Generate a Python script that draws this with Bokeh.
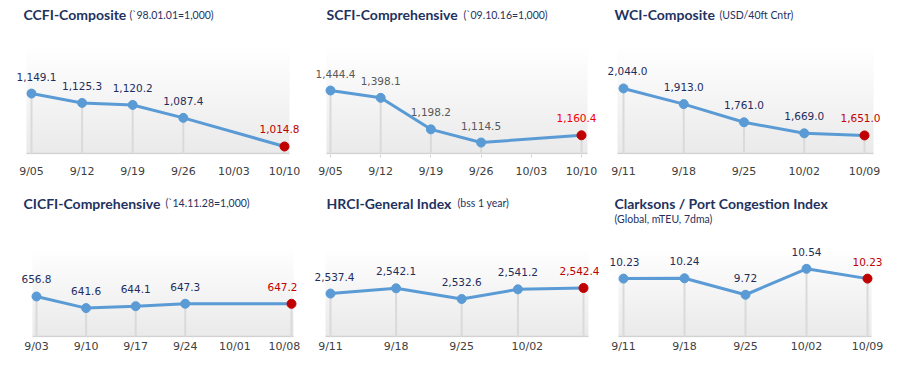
import datetime as dt
import numpy as np
from bokeh.plotting import figure
from bokeh.models import ColumnDataSource, FixedTicker, Label, Range1d
from bokeh.layouts import column, row
from bokeh.embed import file_html
from bokeh.resources import INLINE
from bokeh.core.properties import value

YEAR = 2025

# ---------------- data ----------------
ccfi_title = "CCFI-Composite"
ccfi_note = "(`98.01.01=1,000)"
ccfi_dates = ["2025-09-05", "2025-09-12", "2025-09-19", "2025-09-26", "2025-10-10"]
ccfi_values = [1149.1, 1125.3, 1120.2, 1087.4, 1014.8]
ccfi_ticks = ["9/05", "9/12", "9/19", "9/26", "10/03", "10/10"]

scfi_title = "SCFI-Comprehensive"
scfi_note = "(`09.10.16=1,000)"
scfi_dates = ["2025-09-05", "2025-09-12", "2025-09-19", "2025-09-26", "2025-10-10"]
scfi_values = [1444.4, 1398.1, 1198.2, 1114.5, 1160.4]
scfi_ticks = ["9/05", "9/12", "9/19", "9/26", "10/03", "10/10"]

wci_title = "WCI-Composite"
wci_note = "(USD/40ft Cntr)"
wci_dates = ["2025-09-11", "2025-09-18", "2025-09-25", "2025-10-02", "2025-10-09"]
wci_values = [2044.0, 1913.0, 1761.0, 1669.0, 1651.0]
wci_ticks = ["9/11", "9/18", "9/25", "10/02", "10/09"]

cicfi_title = "CICFI-Comprehensive"
cicfi_note = "(`14.11.28=1,000)"
cicfi_dates = ["2025-09-03", "2025-09-10", "2025-09-17", "2025-09-24", "2025-10-09"]
cicfi_values = [656.8, 641.6, 644.1, 647.3, 647.2]
cicfi_ticks = ["9/03", "9/10", "9/17", "9/24", "10/01", "10/08"]

hrci_title = "HRCI-General Index"
hrci_note = "(bss 1 year)"
hrci_dates = ["2025-09-11", "2025-09-18", "2025-09-25", "2025-10-01", "2025-10-08"]
hrci_values = [2537.4, 2542.1, 2532.6, 2541.2, 2542.4]
hrci_ticks = ["9/11", "9/18", "9/25", "10/02"]

pci_title = "Clarksons / Port Congestion Index"
pci_note = "(Global, mTEU, 7dma)"
pci_dates = ["2025-09-11", "2025-09-18", "2025-09-25", "2025-10-02", "2025-10-09"]
pci_values = [10.23, 10.24, 9.72, 10.54, 10.23]
pci_ticks = ["9/11", "9/18", "9/25", "10/02", "10/09"]

# ---------------- styles / layout ----------------
BLUE = "#5B9BD5"
DARKRED = "#C00000"
NAVY = "#1F2D5C"
TITLE_C = "#1F3260"
GRID_C = "#DADADA"
BASE_C = "#D2D2D2"
TICK_C = "#404040"
VAL_SIZE = "10.5px"
TICK_SIZE = "11px"
TITLE_SIZE = "14px"
NOTE_SIZE = "10.5px"

# picture coordinates (px): fig=(left, top, width, height, frame_bottom)
LAYOUT = [
    dict(fig=(0, 0, 300, 185, 154), box=(26, 289, 45, 153), xpx=(31, 284), yr=(997, 1271),
         title_at=(23, 14), note_at=(129, 14), nudge=(5, -5), ticks=False,
         lab_c=NAVY, last_c=DARKRED, fmt="{:,.1f}", standoff=10),
    dict(fig=(300, 0, 300, 185, 154), box=(326, 587, 45, 153), xpx=(330, 581), yr=(1045, 1730),
         title_at=(326, 14), note_at=(463, 14), nudge=(5, -5), ticks=True,
         lab_c="#595959", last_c="#F00000", fmt="{:,.1f}", standoff=7),
    dict(fig=(600, 0, 284, 185, 154), box=(617, 873, 45, 153), xpx=(623, 864), yr=(1500, 2403),
         title_at=(614, 14), note_at=(719, 14), nudge=(4, -4), ticks=False,
         lab_c=NAVY, last_c=DARKRED, fmt="{:,.1f}", standoff=10),
    dict(fig=(0, 185, 300, 170, 340), box=(32, 293, 248, 339), xpx=(36, 291), yr=(604.5, 721),
         title_at=(23, 205.5), note_at=(165, 205.5), nudge=(0, -9), ticks=False,
         lab_c=NAVY, last_c=DARKRED, fmt="{:,.1f}", standoff=2),
    dict(fig=(300, 185, 300, 170, 340), box=(325, 588, 248, 339), xpx=(330, 583), yr=(2499.2, 2578.6),
         title_at=(326, 205.5), note_at=(457, 205.5), nudge=(4, -4), ticks=False,
         lab_c=NAVY, last_c=DARKRED, fmt="{:,.1f}", standoff=2),
    dict(fig=(600, 185, 284, 170, 340), box=(618, 871, 248, 339), xpx=(623, 867), yr=(8.40, 11.22),
         title_at=(614, 205.5), note_at=(614, 221), nudge=(1, 0), ticks=False,
         lab_c=NAVY, last_c=DARKRED, fmt="{:.2f}", standoff=2),
]


def to_date(s):
    return dt.date.fromisoformat(s)


def tick_to_date(lbl):
    m, d = lbl.split("/")
    return dt.date(YEAR, int(m), int(d))


def gradient_image(n=64, bottom=(234, 234, 234), top=(255, 255, 255)):
    img = np.empty((n, 1), dtype=np.uint32)
    view = img.view(dtype=np.uint8).reshape((n, 1, 4))
    t = np.linspace(0.0, 1.0, n)
    for k in range(3):
        view[:, 0, k] = np.round(bottom[k] + (top[k] - bottom[k]) * t).astype(np.uint8)
    view[:, 0, 3] = 255
    return img


def make_panel(title, note, dates, values, ticks, lay):
    fx, fy, W, H, fb = lay["fig"]
    B = fy + H - fb
    Hf = H - B
    d0 = to_date(dates[0])
    xs = [float((to_date(d) - d0).days) for d in dates]
    tx = [float((tick_to_date(t) - d0).days) for t in ticks]
    px0, px1 = lay["xpx"]
    sx = (px1 - px0) / (xs[-1] - xs[0])
    x_start = xs[0] - (px0 - fx) / sx
    x_end = x_start + W / sx
    bl, br, bt, bb = lay["box"]
    ylo, yhi = lay["yr"]
    sy = (bb - bt) / (yhi - ylo)
    y_end = yhi + (bt - fy) / sy
    y_start = y_end - Hf / sy

    p = figure(width=W, height=H, x_range=Range1d(x_start, x_end), y_range=Range1d(y_start, y_end),
               tools="", toolbar_location=None, output_backend="svg", y_axis_location=None,
               title=None, min_border_left=0, min_border_right=0, min_border_top=0,
               min_border_bottom=B)
    p.outline_line_color = None
    p.background_fill_color = "white"
    p.border_fill_color = "white"
    p.xgrid.visible = False
    p.ygrid.visible = False

    # gradient plot area
    gx0 = x_start + (bl - fx) / sx
    gx1 = x_start + (br - fx) / sx
    p.image_rgba(image=[gradient_image()], x=gx0, y=ylo, dw=gx1 - gx0, dh=yhi - ylo)
    # baseline
    p.segment(x0=[gx0], y0=[ylo], x1=[gx1], y1=[ylo], line_color=BASE_C, line_width=1.5)

    n = len(values)
    colors = [BLUE] * (n - 1) + [DARKRED]
    lab_colors = [lay["lab_c"]] * (n - 1) + [lay["last_c"]]
    xo = [0] * n
    xo[0] = lay["nudge"][0]
    xo[-1] = lay["nudge"][1]
    src = ColumnDataSource(dict(x=xs, y=values, y0=[ylo] * n, c=colors,
                                lab=[lay["fmt"].format(v) for v in values],
                                lc=lab_colors, xo=xo))
    p.segment(x0="x", y0="y0", x1="x", y1="y", source=src, line_color=GRID_C, line_width=2)
    p.line("x", "y", source=src, line_color=BLUE, line_width=3)
    p.scatter("x", "y", source=src, size=9, fill_color="c", line_color="c")
    p.text("x", "y", text="lab", source=src, text_color="lc", x_offset="xo", y_offset=-17,
           text_align="center", text_baseline="middle",
           text_font=value("DejaVu Sans"), text_font_size=VAL_SIZE)

    ax = p.xaxis[0]
    ax.ticker = FixedTicker(ticks=tx)
    ax.major_label_overrides = {t: s for t, s in zip(tx, ticks)}
    ax.axis_line_color = None
    ax.minor_tick_line_color = None
    ax.major_tick_in = 0
    if lay["ticks"]:
        ax.major_tick_out = 3
        ax.major_tick_line_color = BASE_C
    else:
        ax.major_tick_out = 0
        ax.major_tick_line_color = None
    ax.major_label_standoff = lay["standoff"]
    ax.major_label_text_font = "DejaVu Sans"
    ax.major_label_text_font_size = TICK_SIZE
    ax.major_label_text_color = TICK_C

    tx_, ty_ = lay["title_at"]
    p.add_layout(Label(x=tx_ - fx, y=Hf - (ty_ - fy), x_units="screen", y_units="screen",
                       text=title, text_font="Lato", text_font_style="bold",
                       text_font_size=TITLE_SIZE, text_color=TITLE_C,
                       text_align="left", text_baseline="alphabetic"))
    nx_, ny_ = lay["note_at"]
    p.add_layout(Label(x=nx_ - fx, y=Hf - (ny_ - fy), x_units="screen", y_units="screen",
                       text=note, text_font="Lato", text_font_size=NOTE_SIZE, text_color=TITLE_C,
                       text_align="left", text_baseline="alphabetic"))
    return p


panels = [
    (ccfi_title, ccfi_note, ccfi_dates, ccfi_values, ccfi_ticks),
    (scfi_title, scfi_note, scfi_dates, scfi_values, scfi_ticks),
    (wci_title, wci_note, wci_dates, wci_values, wci_ticks),
    (cicfi_title, cicfi_note, cicfi_dates, cicfi_values, cicfi_ticks),
    (hrci_title, hrci_note, hrci_dates, hrci_values, hrci_ticks),
    (pci_title, pci_note, pci_dates, pci_values, pci_ticks),
]

figs = [make_panel(*spec, lay) for spec, lay in zip(panels, LAYOUT)]
layout = column(row(*figs[:3], spacing=0), row(*figs[3:], spacing=0), spacing=0)

open("out.html", "w").write(file_html(layout, INLINE))
